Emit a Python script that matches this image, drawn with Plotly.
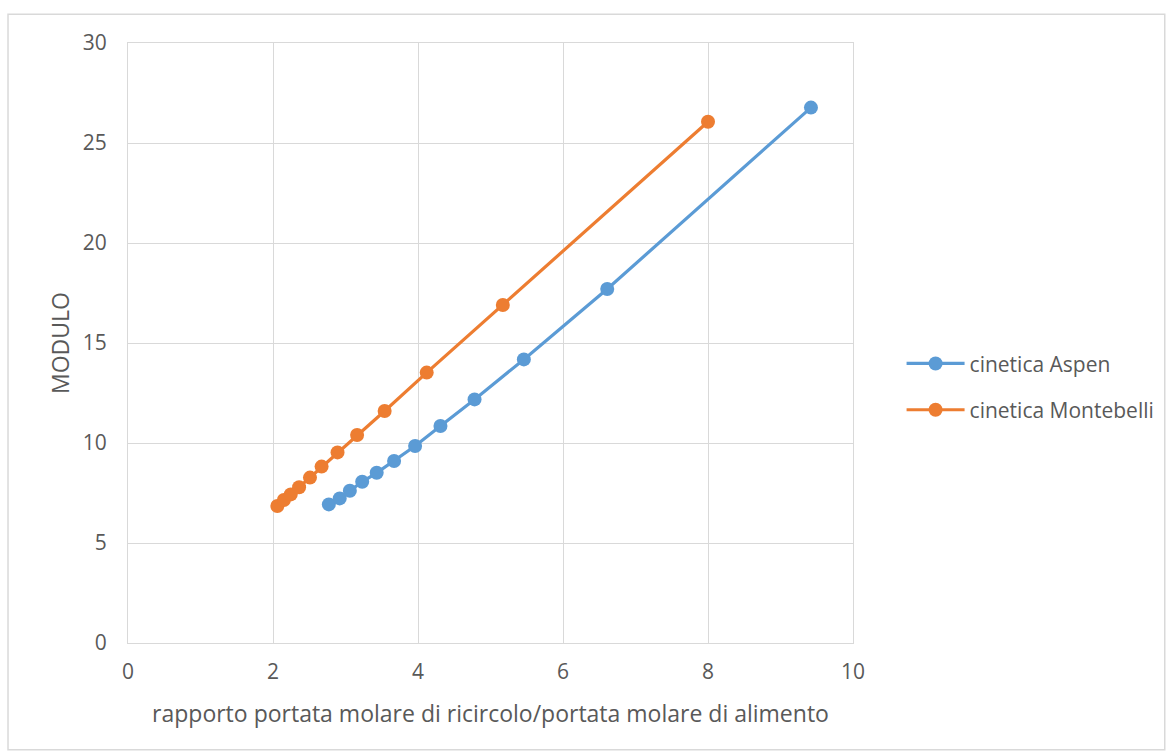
import plotly.graph_objects as go

# Ratio of molar recycle flow to molar feed flow, and the resulting module
aspen_x = [2.77, 2.92, 3.06, 3.23, 3.43, 3.67, 3.96, 4.31, 4.78, 5.46, 6.61, 9.42]
aspen_y = [6.93, 7.23, 7.61, 8.06, 8.51, 9.10, 9.85, 10.85, 12.18, 14.18, 17.70, 26.77]

montebelli_x = [2.06, 2.15, 2.245, 2.36, 2.51, 2.67, 2.89, 3.16, 3.54, 4.12, 5.17, 8.00]
montebelli_y = [6.85, 7.15, 7.43, 7.79, 8.27, 8.82, 9.53, 10.40, 11.60, 13.52, 16.90, 26.06]

x_ticks = [0, 2, 4, 6, 8, 10]
y_ticks = [0, 5, 10, 15, 20, 25, 30]

BLUE = "#5b9bd5"
ORANGE = "#ed7d31"
GRID = "#d9d9d9"
TEXT = "#595959"
FONT = "'Open Sans', sans-serif"

fig = go.Figure()
fig.add_trace(go.Scatter(
    x=aspen_x, y=aspen_y, mode="lines+markers", name="cinetica Aspen",
    legendgroup="aspen",
    line=dict(color=BLUE, width=3.2), marker=dict(color=BLUE, size=14),
))
fig.add_trace(go.Scatter(
    x=montebelli_x, y=montebelli_y, mode="lines+markers", name="cinetica Montebelli",
    legendgroup="montebelli",
    line=dict(color=ORANGE, width=3.2), marker=dict(color=ORANGE, size=14),
))

axis_common = dict(
    showgrid=True, gridcolor=GRID, gridwidth=1,
    showline=True, linecolor=GRID, linewidth=1, mirror=True,
    zeroline=False, ticks="",
    tickfont=dict(family=FONT, size=21, color=TEXT),
)

fig.update_xaxes(
    range=[0, 10], tickvals=x_ticks,
    title=dict(text="rapporto portata molare di ricircolo/portata molare di alimento",
               font=dict(family=FONT, size=23, color=TEXT), standoff=21),
    ticklabelstandoff=10,
    **axis_common,
)
fig.update_yaxes(
    range=[0, 30], tickvals=y_ticks,
    title=dict(text="MODULO", font=dict(family=FONT, size=23, color=TEXT), standoff=6),
    ticklabelstandoff=16,
    **axis_common,
)

# Outer chart frame
fig.add_shape(
    type="rect", xref="paper", yref="paper",
    x0=-0.1655, x1=1.430, y0=-0.178, y1=1.048,
    line=dict(color=GRID, width=1.5), fillcolor="rgba(0,0,0,0)", layer="below",
)

fig.update_layout(
    width=1169, height=751,
    margin=dict(l=128, r=316, t=43, b=108, autoexpand=False),
    paper_bgcolor="white", plot_bgcolor="white",
    showlegend=True,
    legend=dict(
        x=1.067, y=0.427, xanchor="left", yanchor="middle",
        font=dict(family=FONT, size=21, color=TEXT),
        itemwidth=58, tracegroupgap=16,
        bgcolor="rgba(0,0,0,0)",
    ),
)

fig.write_html("out.html")
